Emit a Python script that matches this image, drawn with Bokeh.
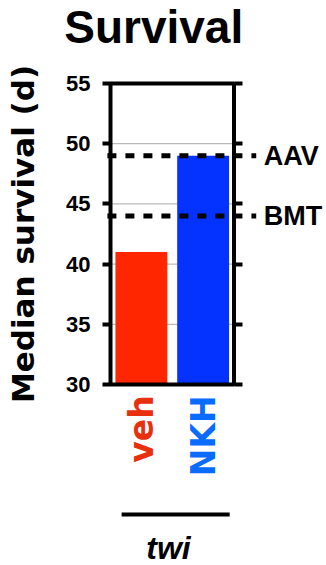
import math
from bokeh.plotting import figure
from bokeh.models import (Range1d, FixedTicker, LinearAxis, Label, LabelSet,
                          ColumnDataSource)
from bokeh.core.properties import value
from bokeh.embed import file_html
from bokeh.resources import INLINE

# ---- data ----
groups = ["veh", "NKH"]
median_survival = [41, 49]
bar_colors = ["#FF2600", "#0433FF"]
label_colors = ["#E8300E", "#0A6CFF"]
ref_labels = ["AAV", "BMT"]
ref_values = [49, 44]
y_ticks = [30, 35, 40, 45, 50, 55]
title_text = "Survival"
y_label = "Median survival (d)"
group_label = "twi"

Y0, Y1 = 30, 55
NG = len(groups)
xs = [i + 0.5 for i in range(NG)]

W, H = 326, 565
PX_X = 61.75    # px per x unit
PX_Y = 12.04    # px per y unit
LEFT_PX = 110   # canvas px of x = 0
BOT_PX = 384    # canvas px of y = Y0 (from top)

x_range = Range1d(-LEFT_PX / PX_X, (W - LEFT_PX) / PX_X)
y_range = Range1d(Y0 - (H - BOT_PX) / PX_Y, Y0 + BOT_PX / PX_Y)

p = figure(width=W, height=H, output_backend="svg", toolbar_location=None,
           x_range=x_range, y_range=y_range,
           min_border_left=0, min_border_right=0,
           min_border_top=0, min_border_bottom=0)
p.background_fill_color = "white"
p.border_fill_color = "white"
p.outline_line_color = None
p.xaxis.visible = False
p.xgrid.visible = False
p.ygrid.visible = False

ya = p.yaxis[0]
ya.fixed_location = 0
ya.bounds = (Y0, Y1)
ya.ticker = FixedTicker(ticks=y_ticks)
ya.axis_line_color = None
ya.major_tick_out = 8
ya.major_tick_in = 0
ya.major_tick_line_width = 4
ya.minor_tick_line_color = None
ya.major_label_standoff = 12
ya.major_label_text_font = "Liberation Sans"
ya.major_label_text_font_style = "bold"
ya.major_label_text_font_size = "22px"
ya.major_label_text_color = "black"
ya.axis_label = y_label
ya.axis_label_text_font = "DejaVu Sans"
ya.axis_label_text_font_style = "bold"
ya.axis_label_text_font_size = "31px"
ya.axis_label_text_color = "black"
ya.axis_label_standoff = 22

ra = LinearAxis(ticker=FixedTicker(ticks=y_ticks), fixed_location=NG,
                bounds=(Y0, Y1))
ra.axis_line_color = None
ra.major_tick_out = 8
ra.major_tick_in = 0
ra.major_tick_line_width = 4
ra.minor_tick_line_color = None
ra.major_label_text_alpha = 0
ra.major_label_text_font_size = "10px"
p.add_layout(ra, "right")

# dotted grid lines inside the box
grid_y = y_ticks[1:-1]
p.segment(x0=[0] * len(grid_y), x1=[NG] * len(grid_y), y0=grid_y, y1=grid_y,
          line_color="#555555", line_width=1, line_dash="1 1")

src = ColumnDataSource(dict(x=xs, top=median_survival, color=bar_colors,
                            name=groups, lcolor=label_colors))
p.vbar(x="x", top="top", bottom=Y0, width=0.84, fill_color="color",
       line_color=None, source=src)

# box frame
p.quad(left=[0], right=[NG], bottom=[Y0], top=[Y1], fill_color=None,
       line_color="black", line_width=4)

# reference dashed lines and labels
p.segment(x0=[-0.05] * len(ref_values), x1=[2.36] * len(ref_values),
          y0=ref_values, y1=ref_values, line_color="black", line_width=5,
          line_dash="9 9")
for lab, v in zip(ref_labels, ref_values):
    p.add_layout(Label(x=2.48, y=v, text=lab, text_font="Liberation Sans",
                       text_font_style="bold", text_font_size="27px",
                       text_baseline="middle", text_align="left",
                       text_color="black"))

# category labels (rotated, coloured)
p.add_layout(LabelSet(x="x", y=29.1, text="name", source=src, angle=math.pi / 2,
                      text_align="right", text_baseline="middle",
                      text_font=value("DejaVu Sans"), text_font_style="bold",
                      text_font_size="33px", text_color="lcolor"))

# group bracket and label
p.segment(x0=[0.18], x1=[1.93], y0=[19.2], y1=[19.2], line_color="black",
          line_width=4)
p.add_layout(Label(x=0.94, y=16.45, text=group_label,
                   text_font="Liberation Sans", text_font_style="bold italic",
                   text_font_size="32px", text_align="center",
                   text_baseline="middle", text_color="black"))

# title
p.add_layout(Label(x=0.70, y=59.69, text=title_text,
                   text_font="Liberation Sans", text_font_style="bold",
                   text_font_size="46px", text_align="center",
                   text_baseline="middle", text_color="black"))

open("out.html", "w").write(file_html(p, INLINE))
